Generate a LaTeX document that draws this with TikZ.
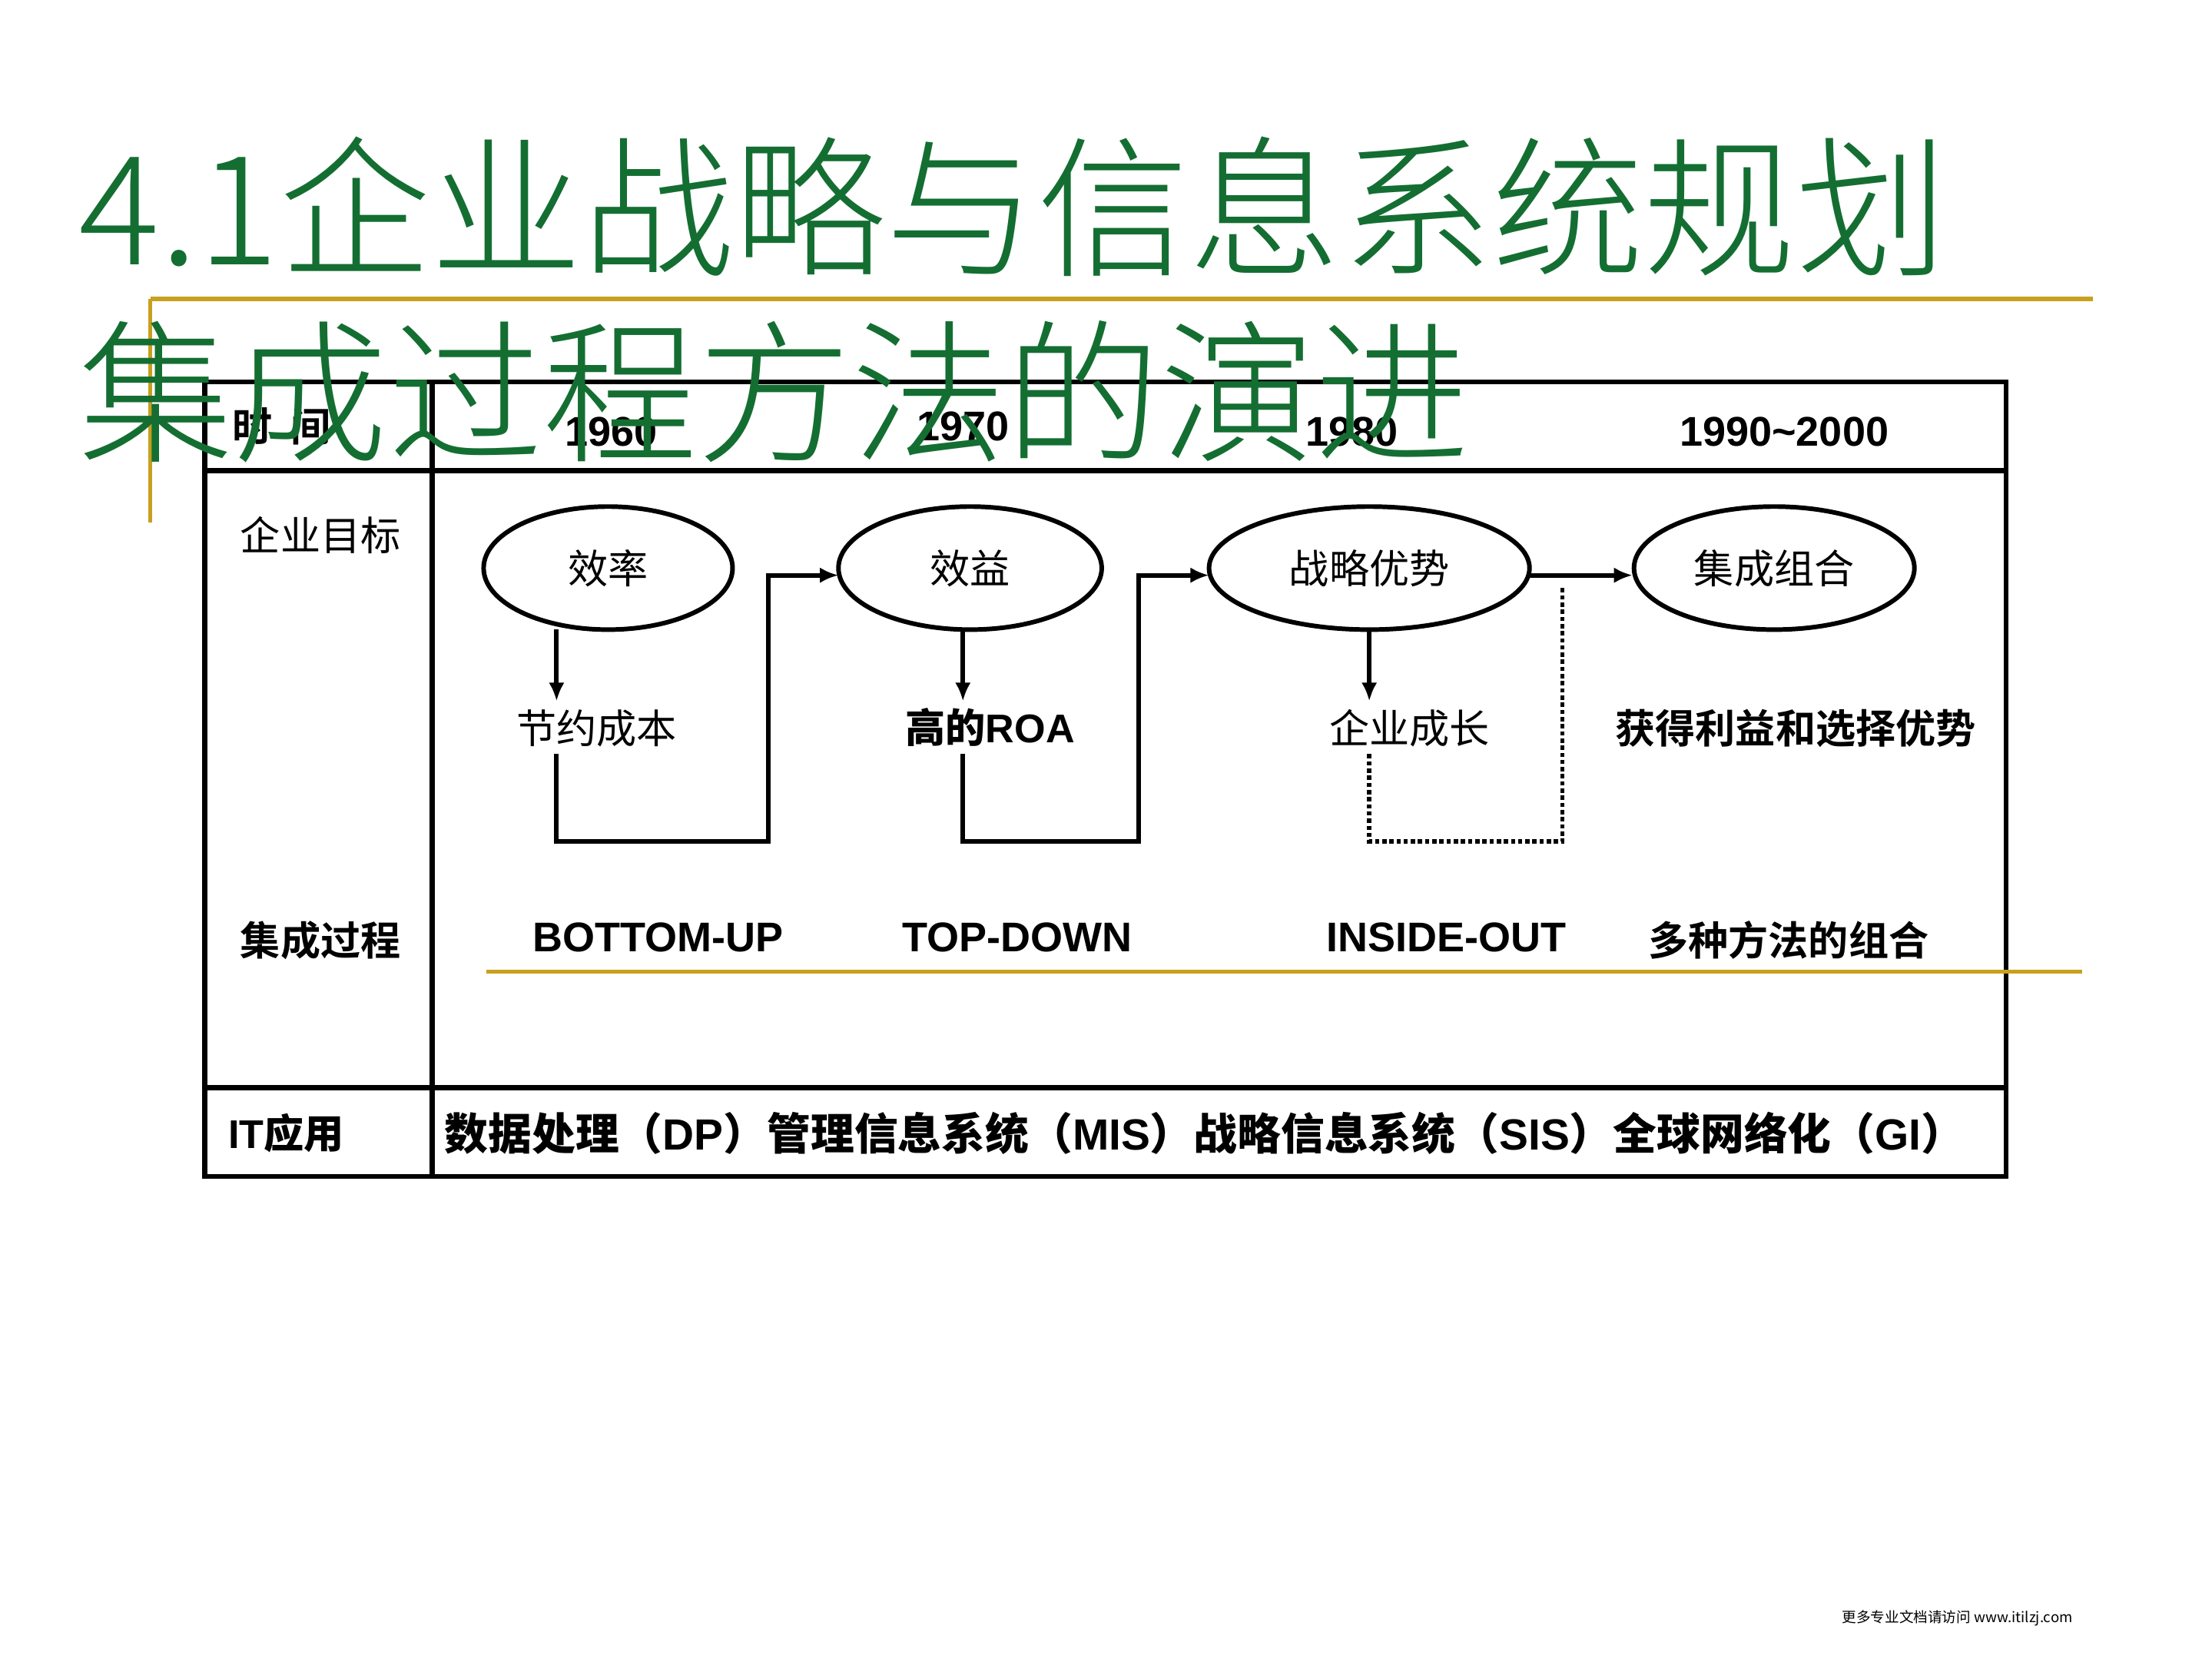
\documentclass[tikz,border=0pt]{standalone}
\usepackage{fontspec}
\setmainfont{Liberation Sans}
\newfontfamily\cjk{Noto Sans CJK SC}
\newfontfamily\cjkb{Noto Sans CJK SC Bold}
\newfontfamily\cjkl{Noto Sans CJK SC Light}
\usetikzlibrary{arrows.meta}
\definecolor{tgreen}{RGB}{20,110,50}
\definecolor{gold}{RGB}{200,160,30}
\begin{document}
\begin{tikzpicture}[x=1pt,y=-1pt,
  lab/.style={font=\cjk\fontsize{28}{30}\selectfont},
  blab/.style={font=\cjkb\fontsize{28}{30}\selectfont},
  num/.style={font=\bfseries\fontsize{29}{30}\selectfont},
  conn/.style={line width=3.2pt},
  arr/.style={line width=3.2pt,-{Latex[length=13pt,width=11pt]}}]
\useasboundingbox (0,0) rectangle (1546,1159);
% gold lines
\draw[gold,line width=3pt] (105,209) -- (1463,209);
\draw[gold,line width=3pt] (105,209) -- (105,365);
% table
\draw[line width=3.5pt] (143,267) rectangle (1402,822);
\draw[line width=3.5pt] (143,329) -- (1402,329);
\draw[line width=3.5pt] (143,760) -- (1402,760);
\draw[line width=3.5pt] (302,267) -- (302,822);
% header
\node[blab] (t0) at (197,298) {时\ \ 间};
\node[num] (y1) at (427,302) {1960};
\node[num] (y2) at (673,298) {1970};
\node[num] (y3) at (945,302) {1980};
\node[num] (y4) at (1247,302) {1990\char`~2000};
\node[lab] (l1) at (224,374) {企业目标};
\node[blab] (l2) at (224,657) {集成过程};
\node[font=\bfseries\fontsize{28}{30}\selectfont] (l3) at (200,792) {IT{\cjkb 应用}};
% ellipses
\draw[line width=3.2pt] (425,397) ellipse (87 and 43);
\draw[line width=3.2pt] (678,397) ellipse (92 and 43);
\draw[line width=3.2pt] (957,397) ellipse (112 and 43);
\draw[line width=3.2pt] (1240,397) ellipse (98 and 43);
\node[lab] (e1) at (425,397) {效率};
\node[lab] (e2) at (678,397) {效益};
\node[lab] (e3) at (957,397) {战略优势};
\node[lab] (e4) at (1240,397) {集成组合};
% coordinates
\coordinate (a1) at (389,440); \coordinate (a2) at (673,440); \coordinate (a3) at (957,440);
\coordinate (b1) at (389,490); \coordinate (b2) at (673,490); \coordinate (b3) at (957,490);
\draw[arr] (a1) -- (b1);
\draw[arr] (a2) -- (b2);
\draw[arr] (a3) -- (b3);
\node[lab] (g1) at (417,509) {节约成本};
\node[font=\bfseries\fontsize{28}{30}\selectfont] (g2) at (692,508) {{\cjk 高的}ROA};
\node[lab] (g3) at (985,509) {企业成长};
\node[blab] (g4) at (1255,509) {获得利益和选择优势};
\draw[arr] (389,527) -- (389,588) -- (537,588) -- (537,402) -- (586,402);
\draw[arr] (673,527) -- (673,588) -- (796,588) -- (796,402) -- (845,402);
\draw[line width=3pt,dotted] (957,527) -- (957,588) -- (1092,588) -- (1092,410);
\draw[arr] (1069,402) -- (1141,402);
% process row
\node[num] (p1) at (460,655) {BOTTOM-UP};
\node[num] (p2) at (711,655) {TOP-DOWN};
\node[num] (p3) at (1011,655) {INSIDE-OUT};
\node[blab] (p4) at (1250,657) {多种方法的组合};
\draw[gold,line width=2.5pt] (340,679) -- (1455,679);
% IT row
\node[font=\bfseries\fontsize{30.5}{32}\selectfont] (it) at (842,792) {{\cjkb 数据处理（}DP{\cjkb ）管理信息系统（}MIS{\cjkb ）战略信息系统（}SIS{\cjkb ）全球网络化（}GI{\cjkb ）}};
% title
\node[anchor=base west,inner sep=0pt,text=tgreen,font=\cjkl\fontsize{106}{110}\selectfont] (title1) at (55,185) {4.1企业战略与信息系统规划};
\node[anchor=base west,inner sep=0pt,text=tgreen,font=\cjkl\fontsize{108}{110}\selectfont] (title2) at (55,315) {集成过程方法的演进};
% footer
\node[font=\cjk\fontsize{10}{12}\selectfont] (foot) at (1368,1131) {更多专业文档请访问 www.itilzj.com};
\end{tikzpicture}
\end{document}
